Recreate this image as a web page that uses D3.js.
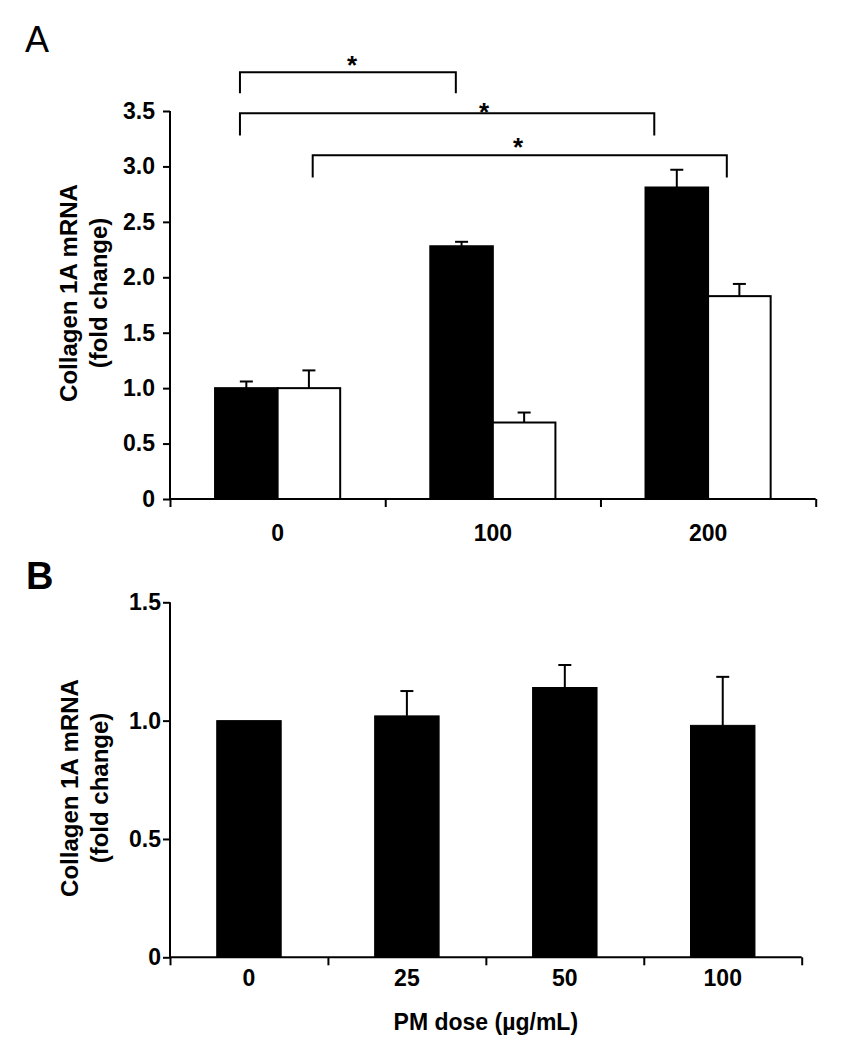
<!DOCTYPE html>
<html>
<head>
<meta charset="utf-8">
<script src="https://cdn.jsdelivr.net/npm/d3@7/dist/d3.min.js"></script>
<style>
  html, body { margin: 0; padding: 0; background: #fff; }
  svg text { font-family: "Liberation Sans", Arial, sans-serif; font-weight: bold; fill: #000; }
</style>
</head>
<body>
<svg id="chart" width="844" height="1050"></svg>
<script>
// ---------- Panel A data ----------
const dosesA = ["0", "100", "200"];
const seriesA = ["black", "white"];
const blackMeanA = [1.0, 2.28, 2.81];
const blackErrA = [0.06, 0.04, 0.16];
const whiteMeanA = [1.0, 0.69, 1.83];
const whiteErrA = [0.16, 0.09, 0.11];
const yTicksA = [0, 0.5, 1.0, 1.5, 2.0, 2.5, 3.0, 3.5];
// significance brackets (x in category-index units, y in data units)
const bracketX1 = [0.325, 0.325, 0.663];
const bracketX2 = [1.328, 2.25, 2.587];
const bracketTop = [3.85, 3.48, 3.10];
const bracketBottom = [3.66, 3.28, 2.90];
const starX = [0.846, 1.459, 1.617];
const starY = [3.96, 3.54, 3.22];
const starLabels = ["*", "*", "*"];

// ---------- Panel B data ----------
const dosesB = ["0", "25", "50", "100"];
const meanB = [1.0, 1.02, 1.14, 0.98];
const errB = [0, 0.105, 0.095, 0.205];
const yTicksB = [0, 0.5, 1.0, 1.5];

const yTitle1 = "Collagen 1A mRNA";
const yTitle2 = "(fold change)";
const xTitleB = "PM dose (µg/mL)";

const svg = d3.select("#chart");
const fmt = v => v === 0 ? "0" : d3.format(".1f")(v);

// =================== PANEL A ===================
const A = { left: 170, right: 815.7, top: 111, bottom: 499 };
const yA = d3.scaleLinear().domain([0, 3.5]).range([A.bottom, A.top]);
const xA = d3.scaleBand().domain(dosesA).range([A.left, A.right]).padding(0);
const xAc = d3.scaleLinear().domain([0, dosesA.length]).range([A.left, A.right]);
const subA = d3.scaleBand().domain(seriesA).range([0, xA.bandwidth()]).paddingInner(0).paddingOuter(0.72);

const gA = svg.append("g");

svg.append("text").attr("x", 25).attr("y", 52).attr("font-size", 36).style("font-weight", "normal").text("A");

const barsA = [];
dosesA.forEach((d, i) => {
  barsA.push({ dose: d, s: "black", v: blackMeanA[i], e: blackErrA[i] });
  barsA.push({ dose: d, s: "white", v: whiteMeanA[i], e: whiteErrA[i] });
});

const ebA = gA.selectAll(".ebA").data(barsA).enter().append("g");
ebA.append("line")
  .attr("x1", d => xA(d.dose) + subA(d.s) + subA.bandwidth() / 2)
  .attr("x2", d => xA(d.dose) + subA(d.s) + subA.bandwidth() / 2)
  .attr("y1", d => yA(d.v)).attr("y2", d => yA(d.v + d.e))
  .attr("stroke", "#000").attr("stroke-width", 2);
ebA.append("line")
  .attr("x1", d => xA(d.dose) + subA(d.s) + subA.bandwidth() / 2 - 6.5)
  .attr("x2", d => xA(d.dose) + subA(d.s) + subA.bandwidth() / 2 + 6.5)
  .attr("y1", d => yA(d.v + d.e)).attr("y2", d => yA(d.v + d.e))
  .attr("stroke", "#000").attr("stroke-width", 2);

gA.selectAll(".barA").data(barsA).enter().append("rect")
  .attr("x", d => xA(d.dose) + subA(d.s))
  .attr("y", d => yA(d.v))
  .attr("width", subA.bandwidth())
  .attr("height", d => yA(0) - yA(d.v))
  .attr("fill", d => d.s === "black" ? "#000" : "#fff")
  .attr("stroke", "#000").attr("stroke-width", 2);

const yAxA = gA.append("g").attr("transform", `translate(${A.left},0)`)
  .call(d3.axisLeft(yA).tickValues(yTicksA).tickFormat(fmt).tickSize(7).tickSizeOuter(0).tickPadding(8));
yAxA.selectAll("text").attr("font-size", 23).attr("font-family", "Liberation Sans, Arial, sans-serif").style("font-weight", "bold");
yAxA.selectAll("path,line").attr("stroke", "#000").attr("stroke-width", 2);
yAxA.select(".domain").attr("d", `M0,${A.top}V${A.bottom}`);

const xAxA = gA.append("g").attr("transform", `translate(0,${A.bottom})`)
  .call(d3.axisBottom(xAc).tickValues(d3.range(dosesA.length + 1)).tickFormat("").tickSize(8).tickSizeOuter(0));
xAxA.selectAll("path,line").attr("stroke", "#000").attr("stroke-width", 2);
xAxA.select(".domain").attr("d", `M${A.left},0H${A.right}`);
const xLabA = gA.append("g").attr("transform", `translate(0,${A.bottom})`)
  .call(d3.axisBottom(xA).tickSize(0).tickPadding(26));
xLabA.select(".domain").remove();
xLabA.selectAll("text").attr("font-size", 23).attr("font-family", "Liberation Sans, Arial, sans-serif").style("font-weight", "bold");

const yTA = svg.append("g").attr("transform", `translate(0,293) rotate(-90)`);
yTA.append("text").attr("x", 0).attr("y", 77).attr("text-anchor", "middle").attr("font-size", 24).text(yTitle1);
yTA.append("text").attr("x", 0).attr("y", 107).attr("text-anchor", "middle").attr("font-size", 24).text(yTitle2);

const brackets = bracketX1.map((x1, i) => ({ x1, x2: bracketX2[i], t: bracketTop[i], b: bracketBottom[i], sx: starX[i], sy: starY[i], lab: starLabels[i] }));
const bg = svg.append("g");
bg.selectAll("path").data(brackets).enter().append("path")
  .attr("d", d => `M${xAc(d.x1)},${yA(d.b)}V${yA(d.t)}H${xAc(d.x2)}V${yA(d.b)}`)
  .attr("fill", "none").attr("stroke", "#000").attr("stroke-width", 2);
bg.selectAll("text").data(brackets).enter().append("text")
  .attr("x", d => xAc(d.sx)).attr("y", d => yA(d.sy) + 14)
  .attr("text-anchor", "middle").attr("font-size", 26).text(d => d.lab);

// =================== PANEL B ===================
const B = { left: 170, right: 801.7, top: 602.3, bottom: 957.3 };
const yB = d3.scaleLinear().domain([0, 1.5]).range([B.bottom, B.top]);
const xB = d3.scaleBand().domain(dosesB).range([B.left, B.right]).paddingInner(0.592).paddingOuter(0.296);
const xBc = d3.scaleLinear().domain([0, dosesB.length]).range([B.left, B.right]);
const gB = svg.append("g");

svg.append("text").attr("x", 26).attr("y", 589).attr("font-size", 38).text("B");

const barsB = dosesB.map((d, i) => ({ dose: d, v: meanB[i], e: errB[i] }));
const ebB = gB.selectAll(".ebB").data(barsB.filter(d => d.e > 0)).enter().append("g");
ebB.append("line")
  .attr("x1", d => xB(d.dose) + xB.bandwidth() / 2).attr("x2", d => xB(d.dose) + xB.bandwidth() / 2)
  .attr("y1", d => yB(d.v)).attr("y2", d => yB(d.v + d.e))
  .attr("stroke", "#000").attr("stroke-width", 2);
ebB.append("line")
  .attr("x1", d => xB(d.dose) + xB.bandwidth() / 2 - 6.5).attr("x2", d => xB(d.dose) + xB.bandwidth() / 2 + 6.5)
  .attr("y1", d => yB(d.v + d.e)).attr("y2", d => yB(d.v + d.e))
  .attr("stroke", "#000").attr("stroke-width", 2);

gB.selectAll(".barB").data(barsB).enter().append("rect")
  .attr("x", d => xB(d.dose)).attr("y", d => yB(d.v))
  .attr("width", xB.bandwidth()).attr("height", d => yB(0) - yB(d.v))
  .attr("fill", "#000").attr("stroke", "#000").attr("stroke-width", 1);

const yAxB = gB.append("g").attr("transform", `translate(${B.left},0)`)
  .call(d3.axisLeft(yB).tickValues(yTicksB).tickFormat(fmt).tickSize(7).tickSizeOuter(0).tickPadding(2));
yAxB.selectAll("text").attr("font-size", 23).attr("font-family", "Liberation Sans, Arial, sans-serif").style("font-weight", "bold");
yAxB.selectAll("path,line").attr("stroke", "#000").attr("stroke-width", 2);
yAxB.select(".domain").attr("d", `M0,${B.top}V${B.bottom}`);

const xAxB = gB.append("g").attr("transform", `translate(0,${B.bottom})`)
  .call(d3.axisBottom(xBc).tickValues(d3.range(dosesB.length + 1)).tickFormat("").tickSize(8).tickSizeOuter(0));
xAxB.selectAll("path,line").attr("stroke", "#000").attr("stroke-width", 2);
xAxB.select(".domain").attr("d", `M${B.left},0H${B.right}`);
const xLabB = gB.append("g").attr("transform", `translate(0,${B.bottom})`)
  .call(d3.axisBottom(xB).tickSize(0).tickPadding(12));
xLabB.select(".domain").remove();
xLabB.selectAll("text").attr("font-size", 23).attr("font-family", "Liberation Sans, Arial, sans-serif").style("font-weight", "bold");

const yTB = svg.append("g").attr("transform", `translate(0,788) rotate(-90)`);
yTB.append("text").attr("x", 0).attr("y", 78).attr("text-anchor", "middle").attr("font-size", 24).text(yTitle1);
yTB.append("text").attr("x", 0).attr("y", 108).attr("text-anchor", "middle").attr("font-size", 24).text(yTitle2);

svg.append("text").attr("x", (B.left + B.right) / 2).attr("y", 1030).attr("text-anchor", "middle")
  .attr("font-size", 23).text(xTitleB);
</script>
</body>
</html>
